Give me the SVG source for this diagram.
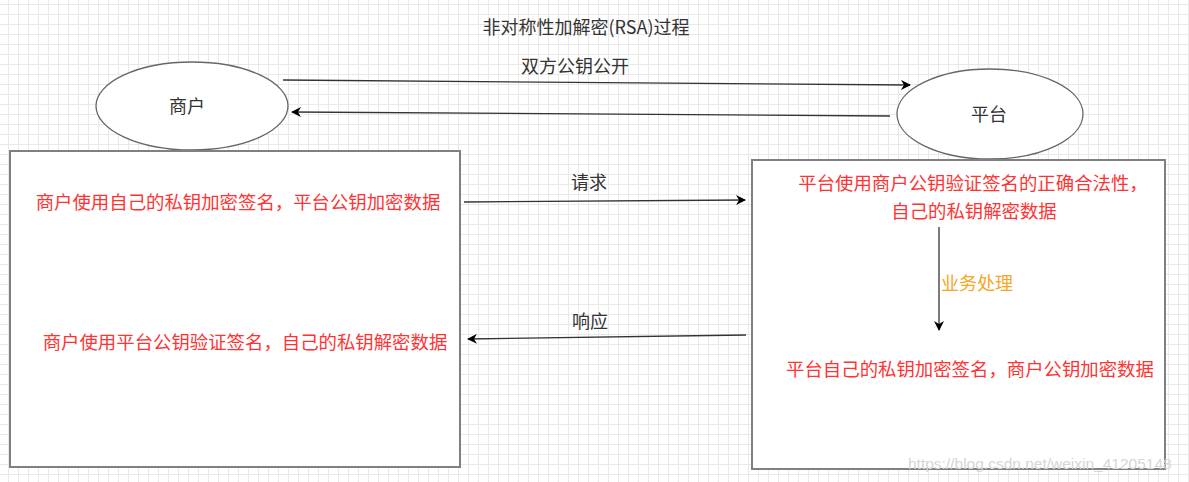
<svg xmlns="http://www.w3.org/2000/svg" width="1189" height="482" viewBox="0 0 1189 482">
<style>
.lbl{font-family:"Noto Sans CJK SC","Liberation Sans",sans-serif;font-size:18px;fill:#333;}
.red{font-family:"Noto Sans CJK SC","Liberation Sans",sans-serif;font-size:18.4px;fill:#ff3333;}
.org{font-family:"Noto Sans CJK SC","Liberation Sans",sans-serif;font-size:18px;fill:#f5a623;}
.node{fill:#fff;stroke:#666;stroke-width:1.3;}
.box{fill:#fff;stroke:#808080;stroke-width:2;}
.conn{fill:none;stroke:#333;stroke-width:1.3;marker-end:url(#arr);}
.wm{font-family:"Liberation Sans",Arial,sans-serif;font-size:15.5px;fill:#d6d6d6;}
</style>
<defs>
<pattern id="grid" x="8" y="4" width="10" height="10" patternUnits="userSpaceOnUse">
<path d="M0,0.5 H10 M0.5,0 V10" fill="none" stroke="#e9e9e9" stroke-width="1"/>
</pattern>
<marker id="arr" viewBox="0 0 10 10" refX="9" refY="5" markerWidth="10" markerHeight="10" markerUnits="userSpaceOnUse" orient="auto">
<path d="M0,0 L10,5 L0,10 L3,5 z" fill="#000"/>
</marker>
</defs>
<rect width="1189" height="482" fill="#fff"/>
<rect width="1189" height="482" fill="url(#grid)"/>

<text class="lbl" x="586" y="34" text-anchor="middle">非对称性加解密(RSA)过程</text>

<g id="merchant">
<ellipse class="node" cx="192" cy="106" rx="96" ry="44"/>
<text class="lbl" x="187" y="113" text-anchor="middle">商户</text>
</g>
<g id="platform">
<ellipse class="node" cx="990" cy="114" rx="93" ry="45"/>
<text class="lbl" x="989" y="121" text-anchor="middle">平台</text>
</g>
<g id="merchant-box">
<rect class="box" x="10" y="151" width="450" height="316"/>
<text class="red" x="238" y="209" text-anchor="middle">商户使用自己的私钥加密签名，平台公钥加密数据</text>
<text class="red" x="245" y="349" text-anchor="middle">商户使用平台公钥验证签名，自己的私钥解密数据</text>
</g>
<g id="platform-box">
<rect class="box" x="752" y="160" width="413" height="309"/>
<text class="red" x="973" y="190" text-anchor="middle">平台使用商户公钥验证签名的正确合法性，</text>
<text class="red" x="974" y="218" text-anchor="middle">自己的私钥解密数据</text>
<text class="red" x="970" y="376" text-anchor="middle">平台自己的私钥加密签名，商户公钥加密数据</text>
</g>

<g id="connectors">
<path class="conn" d="M283,80 L910,85"/>
<text class="lbl" x="575" y="73" text-anchor="middle">双方公钥公开</text>
<path class="conn" d="M890,116 L292,112"/>
<path class="conn" d="M464,202 L745,200"/>
<text class="lbl" x="589" y="189" text-anchor="middle">请求</text>
<path class="conn" d="M746,335 L468,339"/>
<text class="lbl" x="590" y="328" text-anchor="middle">响应</text>
<path class="conn" d="M939,227 L939,330"/>
<text class="org" x="941" y="290">业务处理</text>
</g>

<text class="wm" x="908" y="469">https://blog.csdn.net/weixin_41205148</text>
</svg>
